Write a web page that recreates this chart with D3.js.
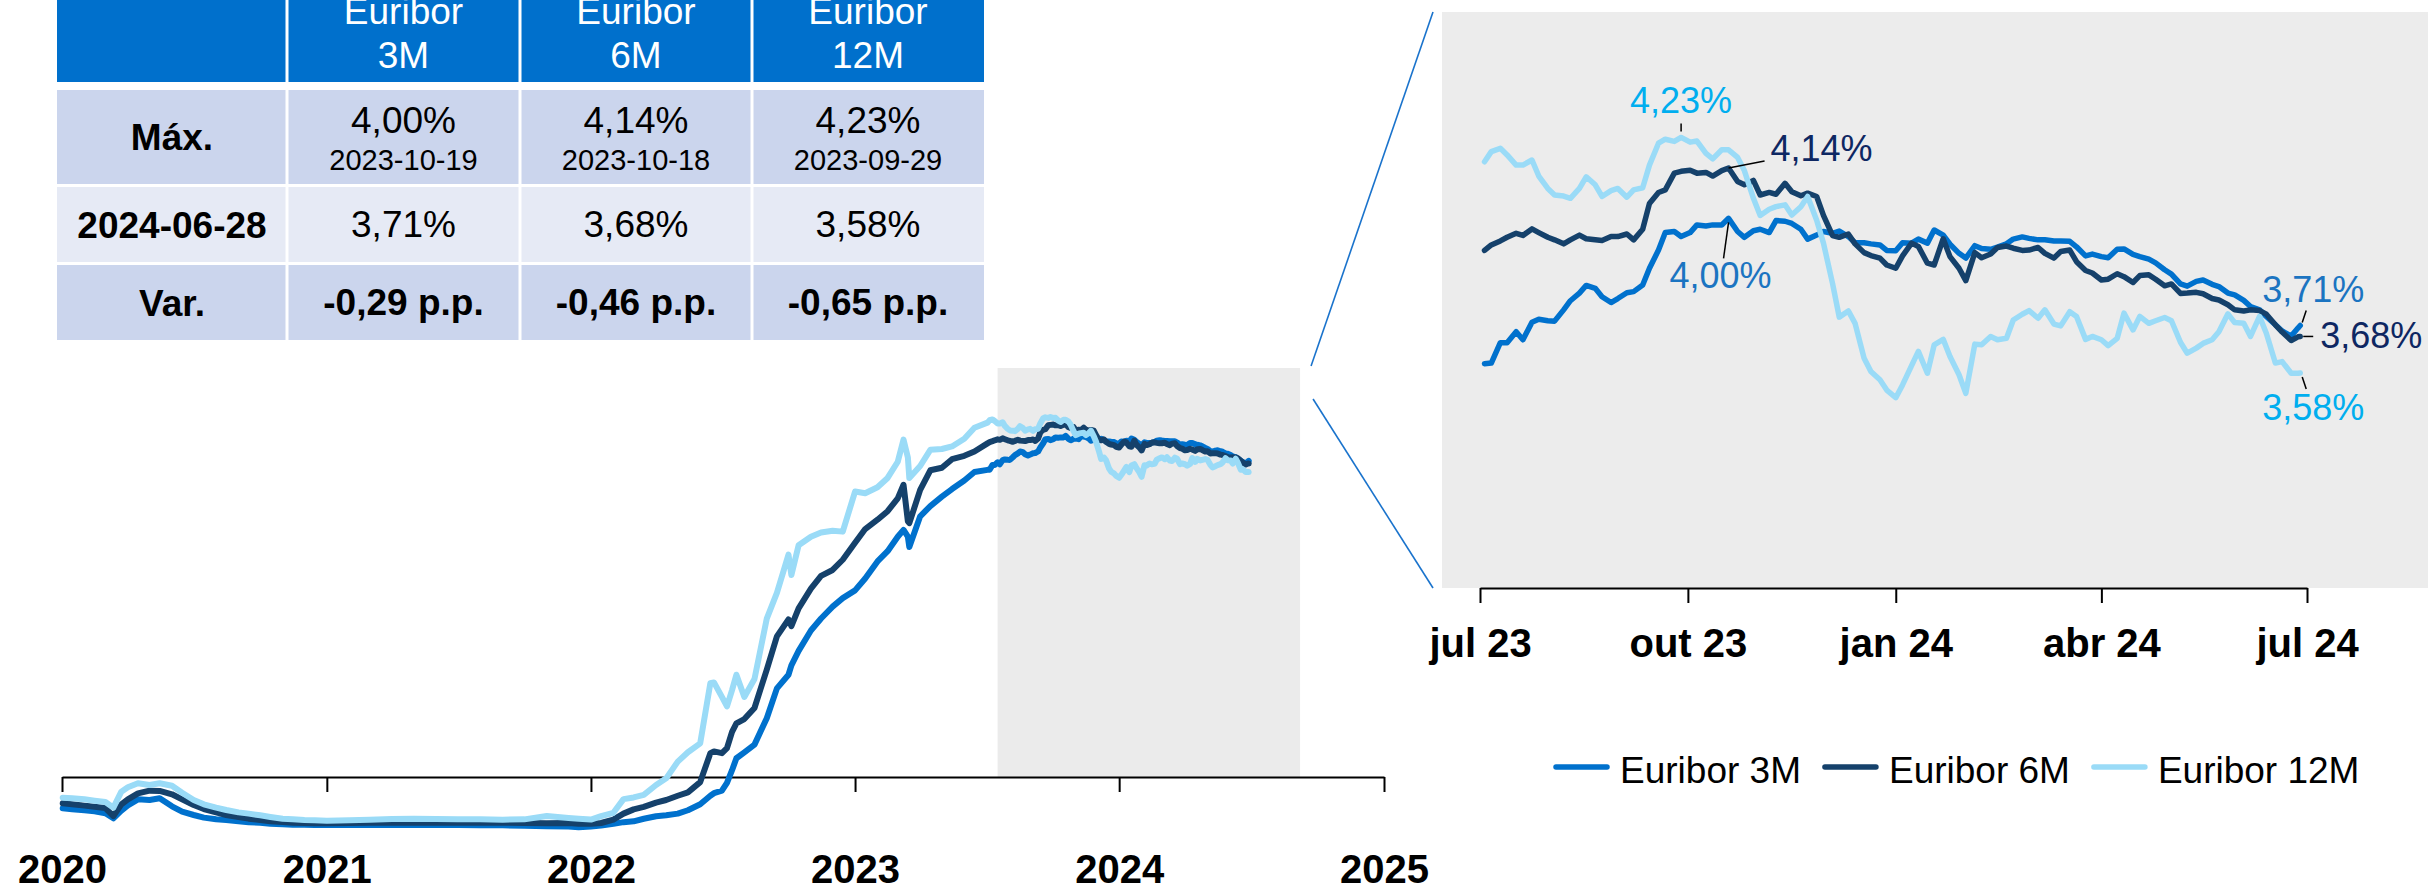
<!DOCTYPE html>
<html>
<head>
<meta charset="utf-8">
<script src="https://cdn.jsdelivr.net/npm/d3@7"></script>
<style>
html,body{margin:0;padding:0;background:#fff;}
svg{display:block;}
text{font-family:"Liberation Sans",Arial,Helvetica,sans-serif;}
</style>
</head>
<body>
<svg id="chart" width="2428" height="886"></svg>
<script>
// ---------------- DATA ----------------
const seriesNames = ["Euribor 3M", "Euribor 6M", "Euribor 12M"];

const dates = [
  "2020-01-02","2020-01-15","2020-02-01","2020-02-15","2020-03-01","2020-03-12","2020-03-23","2020-04-01","2020-04-15","2020-05-01",
  "2020-05-15","2020-06-01","2020-06-15","2020-07-01","2020-07-15","2020-08-01","2020-08-15","2020-09-01","2020-09-15","2020-10-01",
  "2020-10-15","2020-11-01","2020-11-15","2020-12-01","2020-12-15","2021-01-01","2021-02-01","2021-03-01","2021-04-01","2021-05-01",
  "2021-06-01","2021-07-01","2021-08-01","2021-09-01","2021-10-01","2021-11-01",
  "2021-12-01","2021-12-15","2022-01-01","2022-01-15","2022-02-01","2022-02-15","2022-03-01","2022-03-15","2022-04-01","2022-04-15",
  "2022-05-01","2022-05-15","2022-06-01","2022-06-15","2022-06-20","2022-07-01","2022-07-08","2022-07-15","2022-07-21","2022-08-01",
  "2022-08-15","2022-09-01","2022-09-15","2022-10-01","2022-10-05","2022-10-15","2022-11-01","2022-11-15","2022-12-01","2022-12-15",
  "2023-01-01","2023-01-15","2023-02-01","2023-02-15","2023-03-01","2023-03-09","2023-03-15","2023-03-17","2023-04-01","2023-04-15",
  "2023-05-01","2023-05-15","2023-06-01","2023-06-15",
  "2023-07-03","2023-07-06","2023-07-10","2023-07-13","2023-07-17","2023-07-20","2023-07-24","2023-07-27","2023-07-31","2023-08-03",
  "2023-08-07","2023-08-10","2023-08-14","2023-08-17","2023-08-21","2023-08-24","2023-08-28","2023-08-31","2023-09-04","2023-09-07",
  "2023-09-11","2023-09-14","2023-09-18","2023-09-21","2023-09-25","2023-09-28","2023-10-02","2023-10-05","2023-10-09","2023-10-12",
  "2023-10-16","2023-10-19","2023-10-23","2023-10-26","2023-10-30","2023-11-02","2023-11-06","2023-11-09","2023-11-13","2023-11-16",
  "2023-11-20","2023-11-23","2023-11-27","2023-11-30","2023-12-04","2023-12-07","2023-12-11","2023-12-14","2023-12-18","2023-12-21",
  "2023-12-25","2023-12-28","2024-01-01","2024-01-04","2024-01-08","2024-01-11","2024-01-15","2024-01-18","2024-01-22","2024-01-25",
  "2024-01-29","2024-02-01","2024-02-05","2024-02-08","2024-02-12","2024-02-15","2024-02-19","2024-02-22","2024-02-26","2024-02-29",
  "2024-03-04","2024-03-07","2024-03-11","2024-03-14","2024-03-18","2024-03-21","2024-03-25","2024-03-28","2024-04-01","2024-04-04",
  "2024-04-08","2024-04-11","2024-04-15","2024-04-18","2024-04-22","2024-04-25","2024-04-29","2024-05-02","2024-05-06","2024-05-09",
  "2024-05-13","2024-05-16","2024-05-20","2024-05-23","2024-05-27","2024-05-30","2024-06-03","2024-06-06","2024-06-10","2024-06-13",
  "2024-06-17","2024-06-20","2024-06-24","2024-06-27","2024-06-28"
];

const euribor3M = [
  -0.368,-0.379,-0.391,-0.403,-0.426,-0.485,-0.395,-0.333,-0.262,-0.270,
  -0.250,-0.344,-0.407,-0.446,-0.477,-0.497,-0.505,-0.520,-0.532,-0.536,
  -0.548,-0.556,-0.559,-0.559,-0.563,-0.563,-0.563,-0.563,-0.563,-0.563,
  -0.563,-0.563,-0.567,-0.567,-0.571,-0.579,
  -0.580,-0.590,-0.580,-0.570,-0.550,-0.530,-0.520,-0.490,-0.460,-0.450,
  -0.430,-0.390,-0.320,-0.220,-0.190,-0.160,-0.070,0.080,0.220,0.290,
  0.380,0.690,1.040,1.200,1.310,1.480,1.720,1.860,2.000,2.100,
  2.190,2.330,2.530,2.650,2.820,2.900,2.820,2.700,3.060,3.180,
  3.290,3.380,3.480,3.580,
  3.605,3.607,3.663,3.663,3.693,3.671,3.719,3.727,3.723,3.722,
  3.753,3.778,3.799,3.820,3.812,3.789,3.773,3.784,3.800,3.803,
  3.821,3.867,3.917,3.965,3.968,3.954,3.965,3.986,3.983,3.986,
  3.986,4.004,3.968,3.952,3.970,3.974,3.965,3.998,3.996,3.990,
  3.974,3.947,3.958,3.968,3.963,3.969,3.954,3.937,3.937,3.934,
  3.931,3.916,3.915,3.937,3.936,3.947,3.936,3.972,3.958,3.933,
  3.908,3.895,3.929,3.921,3.919,3.925,3.934,3.947,3.953,3.949,
  3.945,3.945,3.942,3.942,3.941,3.926,3.901,3.906,3.899,3.896,
  3.919,3.920,3.905,3.899,3.892,3.882,3.863,3.851,3.824,3.818,
  3.831,3.835,3.823,3.817,3.799,3.794,3.779,3.762,3.753,3.735,
  3.712,3.695,3.681,3.703,3.710
];

const euribor6M = [
  -0.309,-0.321,-0.336,-0.348,-0.364,-0.458,-0.321,-0.262,-0.192,-0.160,
  -0.164,-0.203,-0.262,-0.329,-0.376,-0.415,-0.446,-0.469,-0.489,-0.505,
  -0.520,-0.528,-0.536,-0.540,-0.544,-0.544,-0.540,-0.536,-0.536,-0.536,
  -0.536,-0.536,-0.536,-0.536,-0.540,-0.544,
  -0.540,-0.550,-0.550,-0.540,-0.500,-0.430,-0.380,-0.350,-0.300,-0.270,
  -0.220,-0.180,-0.060,0.280,0.300,0.280,0.340,0.530,0.630,0.680,
  0.810,1.260,1.650,1.850,1.770,1.980,2.210,2.360,2.430,2.550,
  2.750,2.910,3.020,3.120,3.270,3.430,3.000,2.980,3.370,3.600,
  3.630,3.730,3.770,3.820,
  3.916,3.931,3.942,3.952,3.963,3.957,3.975,3.965,3.952,3.945,
  3.934,3.945,3.958,3.948,3.945,3.943,3.954,3.954,3.961,3.945,
  3.974,4.045,4.075,4.082,4.128,4.133,4.136,4.128,4.130,4.120,
  4.135,4.142,4.105,4.096,4.108,4.068,4.075,4.070,4.100,4.077,
  4.066,4.073,4.064,4.012,3.957,3.952,3.961,3.934,3.910,3.902,
  3.895,3.876,3.867,3.901,3.936,3.927,3.881,3.876,3.948,3.899,
  3.867,3.833,3.910,3.896,3.906,3.924,3.928,3.922,3.916,3.917,
  3.924,3.908,3.895,3.913,3.917,3.885,3.861,3.854,3.835,3.837,
  3.852,3.844,3.828,3.847,3.849,3.837,3.819,3.824,3.798,3.799,
  3.801,3.797,3.784,3.780,3.767,3.753,3.750,3.753,3.751,3.741,
  3.712,3.692,3.669,3.679,3.680
];

const euribor12M = [
  -0.243,-0.250,-0.262,-0.278,-0.293,-0.360,-0.172,-0.121,-0.074,-0.094,
  -0.074,-0.102,-0.184,-0.270,-0.321,-0.360,-0.387,-0.415,-0.430,-0.450,
  -0.469,-0.489,-0.497,-0.505,-0.509,-0.513,-0.509,-0.501,-0.493,-0.489,
  -0.493,-0.497,-0.497,-0.501,-0.497,-0.458,
  -0.480,-0.490,-0.500,-0.460,-0.420,-0.260,-0.240,-0.210,-0.094,-0.016,
  0.180,0.290,0.395,1.100,1.110,0.940,0.830,1.020,1.200,0.940,
  1.150,1.860,2.160,2.610,2.370,2.720,2.820,2.870,2.890,2.880,
  3.350,3.330,3.400,3.510,3.700,3.960,3.750,3.510,3.650,3.840,
  3.850,3.880,3.970,4.100,
  4.159,4.187,4.196,4.178,4.150,4.150,4.164,4.120,4.086,4.068,
  4.065,4.059,4.086,4.118,4.096,4.064,4.080,4.086,4.062,4.082,
  4.088,4.150,4.210,4.221,4.215,4.226,4.213,4.216,4.182,4.167,
  4.192,4.192,4.171,4.135,4.059,4.012,4.029,4.036,4.041,4.013,
  4.036,4.064,3.999,3.936,3.826,3.733,3.750,3.716,3.620,3.584,
  3.561,3.533,3.512,3.547,3.600,3.639,3.579,3.657,3.672,3.625,
  3.575,3.524,3.659,3.657,3.680,3.671,3.675,3.725,3.741,3.751,
  3.730,3.753,3.714,3.709,3.748,3.735,3.672,3.680,3.671,3.655,
  3.675,3.744,3.698,3.735,3.716,3.723,3.732,3.723,3.664,3.634,
  3.648,3.661,3.671,3.693,3.742,3.718,3.716,3.680,3.735,3.689,
  3.607,3.611,3.579,3.579,3.580
];

// table
const rowLabels = ["Máx.", "2024-06-28", "Var."];
const maxValues = ["4,00%", "4,14%", "4,23%"];
const maxDates = ["2023-10-19", "2023-10-18", "2023-09-29"];
const lastValues = ["3,71%", "3,68%", "3,58%"];
const variations = ["-0,29 p.p.", "-0,46 p.p.", "-0,65 p.p."];

// axes
const mainTickDates = ["2020-01-01","2021-01-01","2022-01-01","2023-01-01","2024-01-01","2025-01-01"];
const mainTickLabels = ["2020","2021","2022","2023","2024","2025"];
const zoomTickDates = ["2023-07-01","2023-10-01","2024-01-01","2024-04-01","2024-07-01"];
const zoomTickLabels = ["jul 23","out 23","jan 24","abr 24","jul 24"];

// ---------------- DRAWING ----------------
const svg = d3.select("#chart");
const parse = d3.timeParse("%Y-%m-%d");
const FONT = '"Liberation Sans",Arial,Helvetica,sans-serif';
const lineColors = ["#0071cd", "#15416b", "#9adbf7"];
const labelColors = ["#1b74c1", "#0e2762", "#00aeef"];
const seriesVals = [euribor3M, euribor6M, euribor12M];
const data = seriesVals.map(vals => dates.map((d, i) => ({date: parse(d), v: vals[i]})));

// ---- Table ----
const colX = [57, 287, 520, 752, 984];
const tbl = svg.append("g");
tbl.append("rect").attr("x", colX[0]).attr("y", 0).attr("width", colX[4] - colX[0]).attr("height", 82).attr("fill", "#0070cc");
[1, 2, 3].forEach(i => tbl.append("rect").attr("x", colX[i] - 1.5).attr("y", 0).attr("width", 3).attr("height", 82).attr("fill", "#fff"));
seriesNames.forEach((s, i) => {
  const parts = s.split(" ");
  const cx = (colX[i + 1] + colX[i + 2]) / 2;
  tbl.append("text").attr("x", cx).attr("y", 24).attr("text-anchor", "middle").attr("fill", "#fff").attr("font-size", 37).text(parts[0]);
  tbl.append("text").attr("x", cx).attr("y", 68).attr("text-anchor", "middle").attr("fill", "#fff").attr("font-size", 37).text(parts[1]);
});
const rowsY = [[90, 184], [187, 262], [265, 340]];
const rowFill = ["#cbd5ed", "#e6eaf5", "#cbd5ed"];
rowsY.forEach((r, ri) => {
  for (let c = 0; c < 4; c++) {
    const x0 = colX[c] + (c > 0 ? 1.5 : 0), x1 = colX[c + 1] - (c < 3 ? 1.5 : 0);
    tbl.append("rect").attr("x", x0).attr("y", r[0]).attr("width", x1 - x0).attr("height", r[1] - r[0]).attr("fill", rowFill[ri]);
  }
  const mid = (r[0] + r[1]) / 2;
  tbl.append("text").attr("x", (colX[0] + colX[1]) / 2).attr("y", mid + 13).attr("text-anchor", "middle")
    .attr("font-size", 37).attr("font-weight", "bold").attr("fill", "#000").text(rowLabels[ri]);
});
for (let i = 0; i < 3; i++) {
  const cx = (colX[i + 1] + colX[i + 2]) / 2;
  tbl.append("text").attr("x", cx).attr("y", 133).attr("text-anchor", "middle").attr("font-size", 37).text(maxValues[i]);
  tbl.append("text").attr("x", cx).attr("y", 170).attr("text-anchor", "middle").attr("font-size", 29).text(maxDates[i]);
  tbl.append("text").attr("x", cx).attr("y", 237).attr("text-anchor", "middle").attr("font-size", 37).text(lastValues[i]);
  tbl.append("text").attr("x", cx).attr("y", 315).attr("text-anchor", "middle").attr("font-size", 37).attr("font-weight", "bold").text(variations[i]);
}

// ---- Main chart ----
const xMain = d3.scaleTime().domain([parse("2020-01-01"), parse("2025-01-01")]).range([62, 1384]);
const yMain = d3.scaleLinear().domain([0, 4]).range([777, 777 - 4 * 85.2]);

// zoom window highlight
const zStart = parse("2023-07-17"), zEnd = parse("2024-09-07");
svg.append("rect").attr("x", xMain(zStart)).attr("y", yMain(4.8))
  .attr("width", xMain(zEnd) - xMain(zStart)).attr("height", yMain(0) - yMain(4.8)).attr("fill", "#ebebeb");

const mainAxis = svg.append("g").attr("transform", `translate(0,${yMain(0)})`)
  .call(d3.axisBottom(xMain).tickValues(mainTickDates.map(parse)).tickSize(15).tickSizeOuter(0)
    .tickFormat((d, i) => mainTickLabels[i]));
mainAxis.select(".domain").attr("stroke", "#000").attr("stroke-width", 2);
mainAxis.selectAll(".tick line").attr("stroke", "#000").attr("stroke-width", 2);
mainAxis.selectAll(".tick text").attr("y", 106).attr("dy", 0).attr("fill", "#000")
  .style("font-family", FONT).style("font-size", "40px").style("font-weight", "bold");

const lineMain = d3.line().x(d => xMain(d.date)).y(d => yMain(d.v));
[0, 1, 2].forEach(k => {
  svg.append("path").datum(data[k]).attr("d", lineMain).attr("fill", "none")
    .attr("stroke", lineColors[k]).attr("stroke-width", 6).attr("stroke-linejoin", "round").attr("stroke-linecap", "round");
});

// ---- Zoom panel ----
const panel = {x0: 1442, x1: 2428, y0: 12, y1: 588};
const xZ = d3.scaleTime().domain([parse("2023-07-01"), parse("2024-07-01")]).range([1480, 2307]);
const yZ = d3.scaleLinear().domain([2.99, 4.57]).range([panel.y1, panel.y0]);

// connector lines
const rectRight = xMain(zEnd), rectTop = yMain(4.8);
svg.append("line").attr("x1", rectRight + 11).attr("y1", rectTop - 2).attr("x2", panel.x0 - 9).attr("y2", panel.y0)
  .attr("stroke", "#1a73cc").attr("stroke-width", 1.6);
svg.append("line").attr("x1", rectRight + 13).attr("y1", rectTop + 31).attr("x2", panel.x0 - 9).attr("y2", panel.y1)
  .attr("stroke", "#1a73cc").attr("stroke-width", 1.6);

svg.append("rect").attr("x", panel.x0).attr("y", panel.y0).attr("width", panel.x1 - panel.x0)
  .attr("height", panel.y1 - panel.y0).attr("fill", "#ececec");
svg.append("clipPath").attr("id", "pclip").append("rect")
  .attr("x", panel.x0).attr("y", panel.y0).attr("width", panel.x1 - panel.x0).attr("height", panel.y1 - panel.y0);

const zoomAxis = svg.append("g").attr("transform", `translate(0,${panel.y1})`)
  .call(d3.axisBottom(xZ).tickValues(zoomTickDates.map(parse)).tickSize(15).tickSizeOuter(0)
    .tickFormat((d, i) => zoomTickLabels[i]));
zoomAxis.select(".domain").attr("stroke", "#000").attr("stroke-width", 2);
zoomAxis.selectAll(".tick line").attr("stroke", "#000").attr("stroke-width", 2);
zoomAxis.selectAll(".tick text").attr("y", 69).attr("dy", 0).attr("fill", "#000")
  .style("font-family", FONT).style("font-size", "40px").style("font-weight", "bold");

const zFrom = parse("2023-07-01");
const pData = data.map(s => s.filter(d => d.date >= zFrom));
const lineZ = d3.line().x(d => xZ(d.date)).y(d => yZ(d.v));
const pg = svg.append("g").attr("clip-path", "url(#pclip)");
[0, 1, 2].forEach(k => {
  pg.append("path").datum(pData[k]).attr("d", lineZ).attr("fill", "none")
    .attr("stroke", lineColors[k]).attr("stroke-width", 5.5).attr("stroke-linejoin", "round").attr("stroke-linecap", "round");
});

// annotations
const ann = svg.append("g");
function leader(x1, y1, x2, y2) {
  ann.append("line").attr("x1", x1).attr("y1", y1).attr("x2", x2).attr("y2", y2).attr("stroke", "#000").attr("stroke-width", 1.5);
}
function label(x, y, txt, color, anchor) {
  ann.append("text").attr("x", x).attr("y", y).attr("text-anchor", anchor).attr("fill", color).attr("font-size", 36).text(txt);
}
// max labels
const mx = pData.map(s => { const i = d3.maxIndex(s, d => d.v); return [xZ(s[i].date), yZ(s[i].v)]; });
leader(mx[0][0], mx[0][1] + 4, mx[0][0] - 5, mx[0][1] + 40);
label(mx[0][0] - 8, mx[0][1] + 70, maxValues[0], labelColors[0], "middle");
leader(mx[1][0], mx[1][1], mx[1][0] + 36, mx[1][1] - 7);
label(mx[1][0] + 42, mx[1][1] - 7, maxValues[1], labelColors[1], "start");
leader(mx[2][0], mx[2][1] - 6, mx[2][0], mx[2][1] - 14);
label(mx[2][0], mx[2][1] - 24, maxValues[2], labelColors[2], "middle");

// end labels
const ed = pData.map(s => { const d = s[s.length - 1]; return [xZ(d.date), yZ(d.v)]; });
leader(ed[0][0] + 2, ed[0][1] - 3, ed[0][0] + 6, ed[0][1] - 15);
label(ed[0][0] + 13, ed[0][1] - 24, lastValues[0], labelColors[0], "middle");
leader(ed[1][0] + 3, ed[1][1], ed[1][0] + 13, ed[1][1]);
label(ed[1][0] + 20, ed[1][1] + 12, lastValues[1], labelColors[1], "start");
leader(ed[2][0] + 2, ed[2][1] + 4, ed[2][0] + 6, ed[2][1] + 16);
label(ed[2][0] + 13, ed[2][1] + 47, lastValues[2], labelColors[2], "middle");

// ---- Legend ----
const lg = svg.append("g");
let lx = 1556;
seriesNames.forEach((s, k) => {
  lg.append("line").attr("x1", lx).attr("x2", lx + 51).attr("y1", 767).attr("y2", 767)
    .attr("stroke", lineColors[k]).attr("stroke-width", 5.5).attr("stroke-linecap", "round");
  const t = lg.append("text").attr("x", lx + 64).attr("y", 783).attr("font-size", 37).attr("fill", "#000").text(s);
  lx = lx + 64 + t.node().getComputedTextLength() + 24;
});
</script>
</body>
</html>
